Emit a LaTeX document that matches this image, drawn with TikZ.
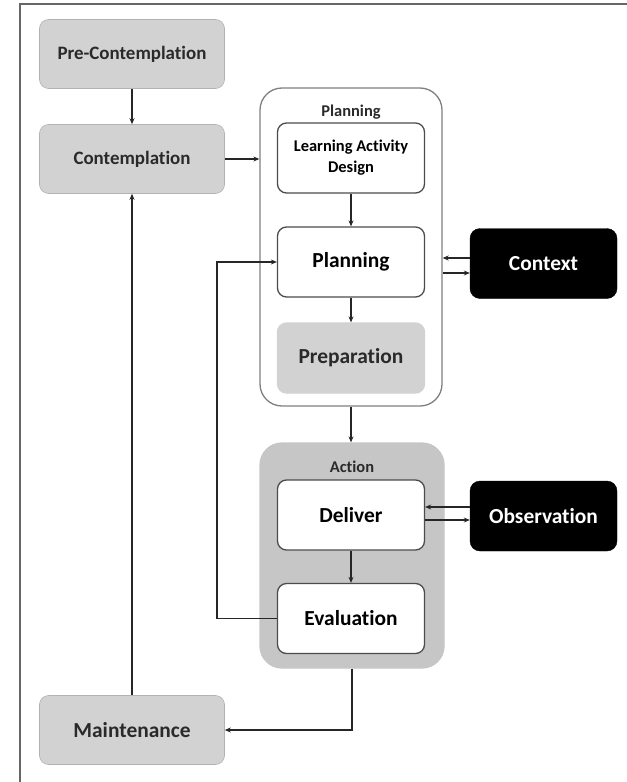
\documentclass[tikz,border=0pt]{standalone}
\usepackage{fontspec}
\setmainfont[RawFeature={-liga;-clig;-dlig}]{Carlito}
\usetikzlibrary{arrows.meta}
\definecolor{boxgray}{HTML}{D2D2D2}
\definecolor{actgray}{HTML}{C6C6C6}
\definecolor{txtgray}{HTML}{2A2A2A}
\begin{document}
\begin{tikzpicture}[x=1bp, y=-1bp,
    stage/.style={rectangle, rounded corners=9bp, fill=boxgray, draw=boxgray!85!black,
      line width=0.6bp, minimum width=185bp, minimum height=69bp, text=txtgray,
      font=\fontsize{19}{22}\selectfont\bfseries},
    inbox/.style={rectangle, rounded corners=9bp, fill=white, draw=black!70,
      line width=1.3bp, minimum width=147bp, minimum height=70bp, align=center,
      font=\fontsize{21.5}{24}\selectfont\bfseries},
    darkbox/.style={rectangle, rounded corners=10bp, fill=black, draw=black,
      minimum width=147bp, minimum height=70bp, text=white,
      font=\fontsize{21.5}{24}\selectfont\bfseries},
    group/.style={rectangle, rounded corners=22bp, line width=1.3bp},
    grouptitle/.style={font=\fontsize{16.5}{19}\selectfont\bfseries, text=txtgray},
    link/.style={-{Stealth[length=6bp,width=5bp]}, line width=1.6bp, draw=black!85}]
  \useasboundingbox (0,0) rectangle (627,782);
  \draw[line width=1.3bp, draw=black!60] (20,782) -- (20,4) -- (627,4);

  % outer groups
  \node[group, draw=black!50, fill=white, minimum width=182bp, minimum height=318bp]
    (planout) at (351,247) {};
  \node[group, draw=actgray, fill=actgray, minimum width=184bp, minimum height=225bp]
    (actout) at (352,555.5) {};
  \node[grouptitle] (plantitle) at (351,112) {Planning};
  \node[grouptitle] (acttitle) at (352,467) {Action};

  % stages on the left
  \begin{scope}[every node/.style={stage}]
    \node (pre) at (132,54) {Pre-Contemplation};
    \node (cont) at (132,159) {Contemplation};
    \node[font=\fontsize{21.5}{24}\selectfont\bfseries] (maint) at (132,730) {Maintenance};
  \end{scope}

  % inner boxes
  \begin{scope}[every node/.style={inbox}]
    \node[font=\fontsize{16.5}{21}\selectfont\bfseries] (lad) at (351,158)
      {Learning Activity\\Design};
    \node (plan) at (351,262) {Planning};
    \node[fill=boxgray, draw=boxgray, text=txtgray] (prep) at (351,358) {Preparation};
    \node (deliv) at (351,515) {Deliver};
    \node (eval) at (351,618.5) {Evaluation};
  \end{scope}

  \node[darkbox] (ctx) at (543.5,263.5) {Context};
  \node[darkbox] (obs) at (543.5,516) {Observation};
  \coordinate (back) at (217,618.5);

  \begin{scope}[link]
    \draw (pre) -- (cont);
    \draw (cont.east) -- (cont.east -| planout.west);
    \draw (lad) -- (plan);
    \draw (plan) -- (prep);
    \draw ([yshift=5.5bp]ctx.west) -- ([yshift=5.5bp]ctx.west -| planout.east);
    \draw ([yshift=-9.5bp]ctx.west -| planout.east) -- ([yshift=-9.5bp]ctx.west);
    \draw (planout.south) -- (actout.north -| planout.south);
    \draw (deliv) -- (eval);
    \draw ([yshift=9bp]obs.west) -- ([yshift=9bp]obs.west -| deliv.east);
    \draw ([yshift=-4bp]obs.west -| deliv.east) -- ([yshift=-4bp]obs.west);
    \draw (eval.west) -- (back) |- (plan.west);
    \draw (actout.south) |- (maint.east);
    \draw (maint) -- (cont);
  \end{scope}
\end{tikzpicture}
\end{document}
